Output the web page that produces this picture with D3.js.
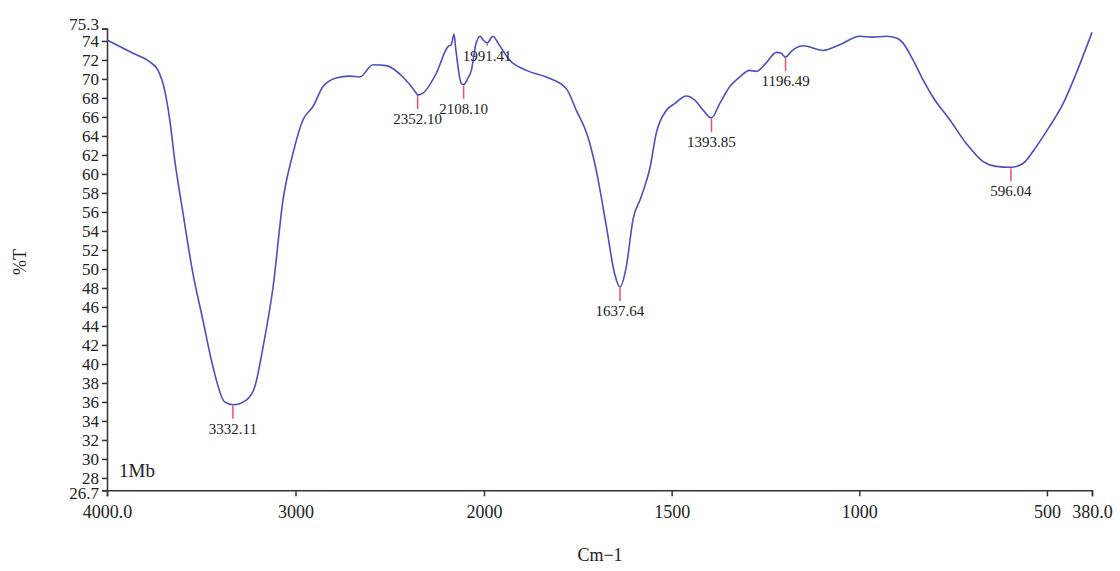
<!DOCTYPE html>
<html>
<head>
<meta charset="utf-8">
<script src="https://cdn.jsdelivr.net/npm/d3@7"></script>
<style>
  body { margin: 0; background: #fff; }
  text { font-family: "Liberation Serif", "DejaVu Serif", serif; fill: #222; }
</style>
</head>
<body>
<div id="chart"></div>
<script>
// wavenumber (cm-1) and transmittance (%T)
let wavenumbers = [4000, 3862, 3773, 3729, 3694, 3667, 3641, 3597, 3544, 3491, 3438, 3376, 3332.11,
    3261, 3216, 3172, 3119, 3066, 3013, 2960, 2907, 2854, 2784, 2712, 2659, 2589, 2518, 2430,
    2359, 2352.1, 2324, 2253, 2191, 2174, 2159, 2150, 2120, 2108.1, 2085, 2067, 2044, 2020, 2005,
    1991.41, 1976, 1963, 1932, 1887, 1834, 1781, 1754, 1723, 1701, 1674, 1652, 1637.64, 1621, 1603,
    1582, 1558, 1541, 1514, 1492, 1461, 1439, 1416, 1393.85, 1372, 1345, 1319, 1292, 1274, 1248,
    1221, 1208, 1196.49, 1181, 1172, 1150, 1097, 1052, 999, 964, 928, 901, 884, 857, 830, 804,
    759, 715, 670, 635, 596.04, 564, 528, 493, 457, 422, 380];
let transmittance = [74.1, 72.7, 71.8, 70.9, 68.8, 65.7, 61.5, 55.9, 49.5, 44.6, 39.7, 36.0, 35.7,
    36.2, 37.6, 41.8, 48.1, 57.3, 62.2, 65.7, 67.1, 69.2, 70.1, 70.3, 70.2, 71.5, 71.4, 70.2,
    68.5, 68.3, 68.5, 70.6, 73.4, 73.6, 74.7, 73.2, 69.5, 69.4, 70.1, 70.9, 73.6, 74.5, 74.1,
    73.8, 74.5, 73.8, 72.0, 70.9, 70.2, 69.0, 66.7, 63.9, 60.4, 54.5, 49.5, 48.1, 50.2, 55.2,
    57.5, 60.6, 64.3, 66.7, 67.4, 68.2, 67.8, 66.7, 65.9, 67.4, 69.2, 70.2, 70.9, 70.8, 71.7,
    72.8, 72.7, 72.3, 72.9, 73.2, 73.5, 73.0, 73.6, 74.5, 74.4, 74.5, 74.3, 73.8, 72.0, 69.9, 68.1,
    65.7, 63.2, 61.3, 60.8, 60.7, 61.1, 62.9, 65.0, 67.4, 70.6, 74.9];

let peakWn = [3332.11, 2352.10, 2108.10, 1991.41, 1637.64, 1393.85, 1196.49, 596.04];
let peakT = [35.7, 68.3, 69.4, 73.8, 48.1, 65.9, 72.3, 60.7];
let peakLabels = ["3332.11", "2352.10", "2108.10", "1991.41", "1637.64", "1393.85", "1196.49", "596.04"];

let xTicks = [4000, 3000, 2000, 1500, 1000, 500, 380];
let xTickLabels = ["4000.0", "3000", "2000", "1500", "1000", "500", "380.0"];
let yTicks = [26.7, 28, 30, 32, 34, 36, 38, 40, 42, 44, 46, 48, 50, 52, 54, 56, 58, 60, 62, 64, 66, 68, 70, 72, 74, 75.3];

let W = 1120, H = 571;
let mLeft = 107, mRight = 1092, mTop = 28.6, mBottom = 490.3;

let svg = d3.select("#chart").append("svg")
    .attr("width", W)
    .attr("height", H);

// spectrum axis is compressed 2x above 2000 cm-1
let x = d3.scaleLinear()
    .domain([4000, 2000, 380])
    .range([mLeft, 484, mRight]);

let y = d3.scaleLinear()
    .domain([26.7, 75.3])
    .range([mBottom, mTop]);

let xAxis = svg.append("g")
    .attr("transform", "translate(0," + mBottom + ")")
    .call(d3.axisBottom(x).tickValues(xTicks).tickSize(6).tickPadding(9)
        .tickFormat((d, i) => xTickLabels[i]));

let yAxis = svg.append("g")
    .attr("transform", "translate(" + mLeft + ",0)")
    .call(d3.axisLeft(y).tickValues(yTicks).tickSize(5).tickPadding(3)
        .tickFormat(d => d));

[xAxis, yAxis].forEach(function(a) {
    a.select(".domain").attr("stroke", "#333").attr("stroke-width", 1.5);
    a.selectAll(".tick line").attr("stroke", "#333").attr("stroke-width", 1.5);
    a.selectAll(".tick text")
        .style("font-family", "'Liberation Serif', serif")
        .style("font-size", "18px")
        .attr("fill", "#222");
});
yAxis.selectAll(".tick text").style("font-size", "17px");
// end labels sit a bit away from their neighbours
yAxis.selectAll(".tick text").attr("dy", d => d == 75.3 ? "0.08em" : d == 26.7 ? "0.5em" : "0.34em");

// the spectrum
let pts = wavenumbers.map((w, i) => [w, transmittance[i]]);
let line = d3.line()
    .x(d => x(d[0]))
    .y(d => y(d[1]))
    .curve(d3.curveMonotoneX);

svg.append("path")
    .datum(pts)
    .attr("fill", "none")
    .attr("stroke", "#4e4ec0")
    .attr("stroke-width", 1.6)
    .attr("d", line);

// peak markers
let gaps = { "1991.41": 3 }; // crowded spot, short tick
peakWn.forEach(function(w, i) {
    let px = x(w), py = y(peakT[i]);
    let len = gaps[peakLabels[i]] || 14;
    svg.append("line")
        .attr("x1", px).attr("x2", px)
        .attr("y1", py + 1).attr("y2", py + len)
        .attr("stroke", "#f0506a")
        .attr("stroke-width", 1.5);
    svg.append("text")
        .attr("x", px)
        .attr("y", py + len + 15)
        .attr("text-anchor", "middle")
        .style("font-size", "15px")
        .text(peakLabels[i]);
});

svg.append("text")
    .attr("x", 119)
    .attr("y", 477)
    .style("font-size", "19px")
    .text("1Mb");

svg.append("text")
    .attr("transform", "translate(26,262) rotate(-90)")
    .attr("text-anchor", "middle")
    .style("font-size", "18px")
    .text("%T");

svg.append("text")
    .attr("x", 600)
    .attr("y", 561)
    .attr("text-anchor", "middle")
    .style("font-size", "18px")
    .text("Cm−1");
</script>
</body>
</html>
